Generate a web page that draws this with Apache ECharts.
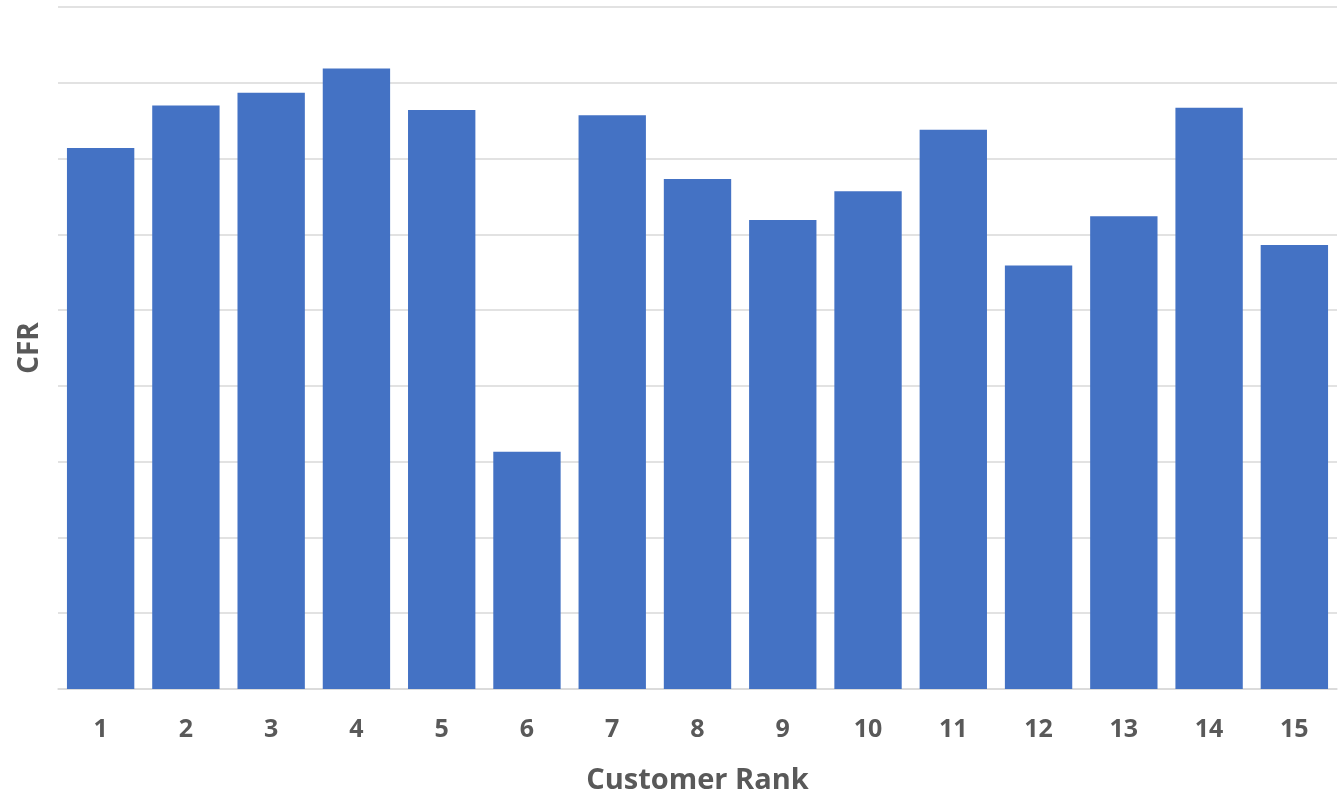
<!DOCTYPE html>
<html>
<head>
<meta charset="utf-8">
<script src="https://cdn.jsdelivr.net/npm/echarts@6/dist/echarts.min.js"></script>
<style>
    html, body { margin: 0; padding: 0; background: #fff; }
    #main { width: 1339px; height: 799px; }
</style>
</head>
<body>
<div id="main"></div>
<script>
// customer rank on x, CFR on y (the y axis has no labels in the source)
const ranks = ['1', '2', '3', '4', '5', '6', '7', '8', '9', '10', '11', '12', '13', '14', '15'];
const cfrValues = [7.14, 7.70, 7.87, 8.19, 7.64, 3.13, 7.57, 6.73, 6.19, 6.57, 7.38, 5.59, 6.24, 7.67, 5.86];
const yMin = 0;
const yMax = 9;
const yStep = 1;

const myChart = echarts.init(document.getElementById('main'));
const fontName = '"Open Sans", sans-serif';

myChart.setOption({
    animation: false,
    grid: {
        left: 58,
        right: 2,
        top: 7,
        bottom: 110,
        outerBoundsMode: 'none'
    },
    xAxis: {
        type: 'category',
        data: ranks,
        name: 'Customer Rank',
        nameLocation: 'middle',
        nameGap: 77,
        nameTextStyle: {
            color: '#595959',
            fontSize: 29,
            fontWeight: 'bold',
            fontFamily: fontName
        },
        axisLine: { lineStyle: { color: '#d9d9d9', width: 1.5 } },
        axisTick: { show: false },
        axisLabel: {
            color: '#595959',
            fontSize: 25,
            fontWeight: 'bold',
            fontFamily: fontName,
            margin: 28
        }
    },
    yAxis: {
        type: 'value',
        min: yMin,
        max: yMax,
        interval: yStep,
        name: 'CFR',
        nameLocation: 'middle',
        nameRotate: 90,
        nameGap: 14,
        nameTextStyle: {
            color: '#595959',
            fontSize: 28,
            fontWeight: 'bold',
            fontFamily: fontName
        },
        axisLine: { show: false },
        axisTick: { show: false },
        axisLabel: { show: false },
        splitLine: { lineStyle: { color: '#d9d9d9', width: 1.5 } }
    },
    series: [
        {
            name: 'CFR',
            type: 'bar',
            data: cfrValues,
            barCategoryGap: '21%',
            itemStyle: { color: '#4472C4' }
        }
    ]
});
</script>
</body>
</html>
